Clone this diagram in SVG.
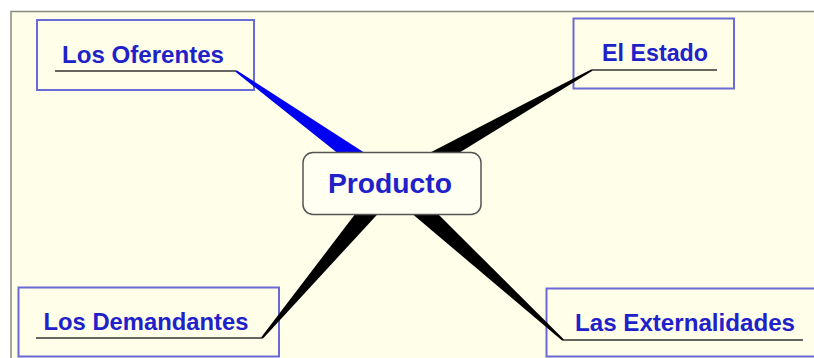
<svg xmlns="http://www.w3.org/2000/svg" width="814" height="358" viewBox="0 0 814 358">
  <style>
    .box { fill: none; stroke: #6a6ad6; stroke-width: 2; }
    .lbl { font-family: "Liberation Sans", Arial, sans-serif; font-weight: bold; font-size: 24px; fill: #2121c9; }
    .ul { stroke: #333; stroke-width: 1.6; fill: none; }
    .wedge { fill: #000; }
  </style>
  <rect x="0" y="0" width="814" height="358" fill="#ffffff"/>
  <rect x="11" y="11.5" width="804" height="348" fill="#fffee9" stroke="#8a8a80" stroke-width="1.5"/>

  <g id="node-oferentes">
    <rect class="box" x="37" y="20" width="217" height="70"/>
    <text class="lbl" x="62" y="62.5" textLength="162" lengthAdjust="spacingAndGlyphs">Los Oferentes</text>
  </g>
  <g id="node-estado">
    <rect class="box" x="573.5" y="18.5" width="160.5" height="70"/>
    <text class="lbl" x="602" y="61" textLength="106" lengthAdjust="spacingAndGlyphs">El Estado</text>
  </g>
  <g id="node-demandantes">
    <rect class="box" x="18.5" y="287.5" width="260.5" height="69"/>
    <text class="lbl" x="43.5" y="330" textLength="205" lengthAdjust="spacingAndGlyphs">Los Demandantes</text>
  </g>
  <g id="node-externalidades">
    <path class="box" d="M814 288.5 H546.5 V356.5 H814"/>
    <text class="lbl" x="575" y="331" textLength="220" lengthAdjust="spacingAndGlyphs">Las Externalidades</text>
  </g>

  <g id="connectors">
    <path class="ul" d="M55 71 H236" stroke="#1c1c6a"/>
    <path class="ul" d="M592 70 H717"/>
    <path class="ul" d="M36 338 H262"/>
    <path class="ul" d="M563 340 H803"/>
    <polygon fill="#0000f0" points="236.58,70.19 398.2,174.4 385.8,191.6 235.42,71.81"/>
    <polygon class="wedge" points="591.51,69.13 387.33,174.73 396.67,191.27 592.49,70.87"/>
    <polygon class="wedge" points="262.77,338.64 400.1,189.7 383.9,176.3 261.23,337.36"/>
    <polygon class="wedge" points="563.68,339.26 399.1,175.3 384.9,190.7 562.32,340.74"/>
  </g>

  <g id="node-producto">
    <rect x="303" y="152.5" width="178" height="62" rx="10" ry="10" fill="#fffff2" stroke="#555" stroke-width="1.5"/>
    <text class="lbl" x="328" y="193" style="font-size:28px" textLength="124" lengthAdjust="spacingAndGlyphs">Producto</text>
  </g>
</svg>
